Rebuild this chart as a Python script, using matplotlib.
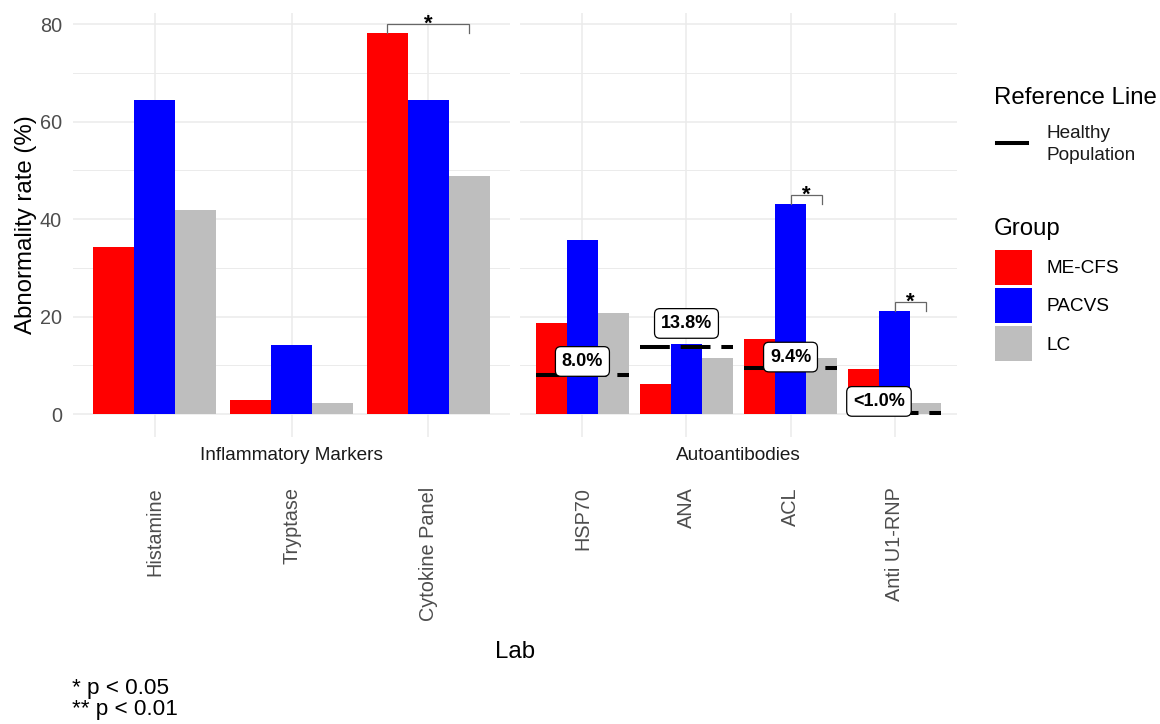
import numpy as np
import matplotlib.pyplot as plt
from matplotlib.lines import Line2D
from matplotlib.patches import Patch

plt.rcParams['font.family'] = ['Liberation Sans', 'DejaVu Sans']

# --- data ---
groups = ['ME-CFS', 'PACVS', 'LC']
group_colors = ['#FF0000', '#0000FF', '#BEBEBE']

inflam_labs = ['Histamine', 'Tryptase', 'Cytokine Panel']
inflam_me = [34.3, 2.9, 78.2]
inflam_pacvs = [64.5, 14.2, 64.5]
inflam_lc = [41.9, 2.3, 48.9]

auto_labs = ['HSP70', 'ANA', 'ACL', 'Anti U1-RNP']
auto_me = [18.7, 6.2, 15.4, 9.2]
auto_pacvs = [35.7, 14.4, 43.1, 21.1]
auto_lc = [20.7, 11.5, 11.5, 2.3]

# healthy population reference rates (autoantibodies only)
ref_rates = [8.0, 13.8, 9.4, 0.3]
ref_text = ['8.0%', '13.8%', '9.4%', '<1.0%']
ref_label_y = [10.8, 18.6, 11.7, 2.6]
ref_label_nudge = [0, 0, 0, -0.15]

# significance brackets: (lab index, group a, group b, stars)
inflam_sig = [(2, 0, 2, '*')]
auto_sig = [(2, 1, 2, '*'), (3, 1, 2, '*')]

BAR_W = 0.3
TICK_GREY = '#4d4d4d'
GRID = '#ebebeb'


def draw_panel(ax, labs, series, strip, sig):
    x = np.arange(len(labs))
    for i, (vals, col) in enumerate(zip(series, group_colors)):
        ax.bar(x + (i - 1) * BAR_W, vals, width=BAR_W, color=col,
               linewidth=0, zorder=2)

    ax.set_xlim(-0.6, len(labs) - 0.4)
    ax.set_ylim(-4.7, 82.3)
    ax.set_xticks(x)
    ax.set_xticklabels(labs, rotation=90, ha='center', va='top')
    ax.set_yticks(np.arange(0, 81, 20))
    ax.set_yticks(np.arange(10, 80, 20), minor=True)
    ax.grid(True, which='major', color=GRID, lw=1.1, zorder=0)
    ax.grid(True, which='minor', axis='y', color=GRID, lw=0.7, zorder=0)
    ax.set_axisbelow(True)
    for sp in ax.spines.values():
        sp.set_visible(False)
    ax.tick_params(axis='both', which='both', length=0,
                   labelsize=14.3, labelcolor=TICK_GREY)
    ax.tick_params(axis='x', pad=36)
    ax.tick_params(axis='y', pad=8)

    # facet strip at the bottom
    ax.text(0.5, -0.043, strip, transform=ax.transAxes, ha='center',
            va='center', fontsize=13.7, color='#1a1a1a')

    # significance brackets
    for li, a, b, star in sig:
        xa = li + (a - 1) * BAR_W
        xb = li + (b - 1) * BAR_W
        top = max(series[a][li], series[b][li])
        yb = top + 1.8
        ax.plot([xa, xa, xb, xb], [top, yb, yb, top], color='#666666',
                lw=0.9, zorder=3, solid_joinstyle='miter')
        ax.annotate(star, xy=((xa + xb) / 2, yb), xytext=(0, -4),
                    textcoords='offset points', ha='center', va='baseline',
                    fontsize=16, fontweight='bold', color='black', zorder=4)
    return x


fig = plt.figure(figsize=(11.6, 7.24), dpi=100)
ax1 = fig.add_axes([73 / 1160, 1 - 437 / 724, 437 / 1160, 424 / 724])
ax2 = fig.add_axes([520 / 1160, 1 - 437 / 724, 437 / 1160, 424 / 724])

draw_panel(ax1, inflam_labs, [inflam_me, inflam_pacvs, inflam_lc],
           'Inflammatory Markers', inflam_sig)
xa = draw_panel(ax2, auto_labs, [auto_me, auto_pacvs, auto_lc],
                'Autoantibodies', auto_sig)
ax2.tick_params(axis='y', labelleft=False)

ax1.set_ylabel('Abnormality rate (%)', fontsize=17.3, labelpad=2)

# healthy population reference lines + labels
for i, (r, txt, ly, dx) in enumerate(zip(ref_rates, ref_text, ref_label_y,
                                         ref_label_nudge)):
    ax2.plot([xa[i] - 0.45, xa[i] + 0.45], [r, r], color='black', lw=2.9,
             linestyle=(0, (7.4, 2.7)), dash_capstyle='butt', zorder=5)
    ax2.text(xa[i] + dx, ly, txt, ha='center', va='center', fontsize=13,
             fontweight='bold', zorder=6,
             bbox=dict(boxstyle='round,pad=0.35,rounding_size=0.3',
                       fc='white', ec='black', lw=0.9))

# x axis title and caption
fig.text(515 / 1160, 1 - 652 / 724, 'Lab', ha='center', va='center',
         fontsize=17.3)
fig.text(72 / 1160, 1 - 678 / 724, '* p < 0.05\n** p < 0.01', ha='left',
         va='top', fontsize=16.2, linespacing=0.98)

# legend: reference line
fig.text(994 / 1160, 1 - 98 / 724, 'Reference Line', ha='left',
         va='center', fontsize=17.3)
fig.add_artist(Line2D([997 / 1160, 1027 / 1160], [1 - 143 / 724] * 2,
                      color='black', lw=2.9, transform=fig.transFigure))
fig.text(1046 / 1160, 1 - 133 / 724, 'Healthy', ha='left',
         va='center', fontsize=13.7, color='#1a1a1a')
fig.text(1046 / 1160, 1 - 155 / 724, 'Population', ha='left',
         va='center', fontsize=13.7, color='#1a1a1a')

# legend: group
fig.text(994 / 1160, 1 - 229 / 724, 'Group', ha='left', va='center',
         fontsize=17.3)
fig.legend(handles=[Patch(color=c, linewidth=0) for c in group_colors],
           labels=groups, loc='upper left',
           bbox_to_anchor=(995 / 1160, 1 - 250 / 724), frameon=False,
           borderpad=0, borderaxespad=0, fontsize=13.7, handlelength=1.95,
           handleheight=2.46, labelspacing=0.16, handletextpad=0.74)

fig.savefig('out.png', dpi=100, facecolor='white')
